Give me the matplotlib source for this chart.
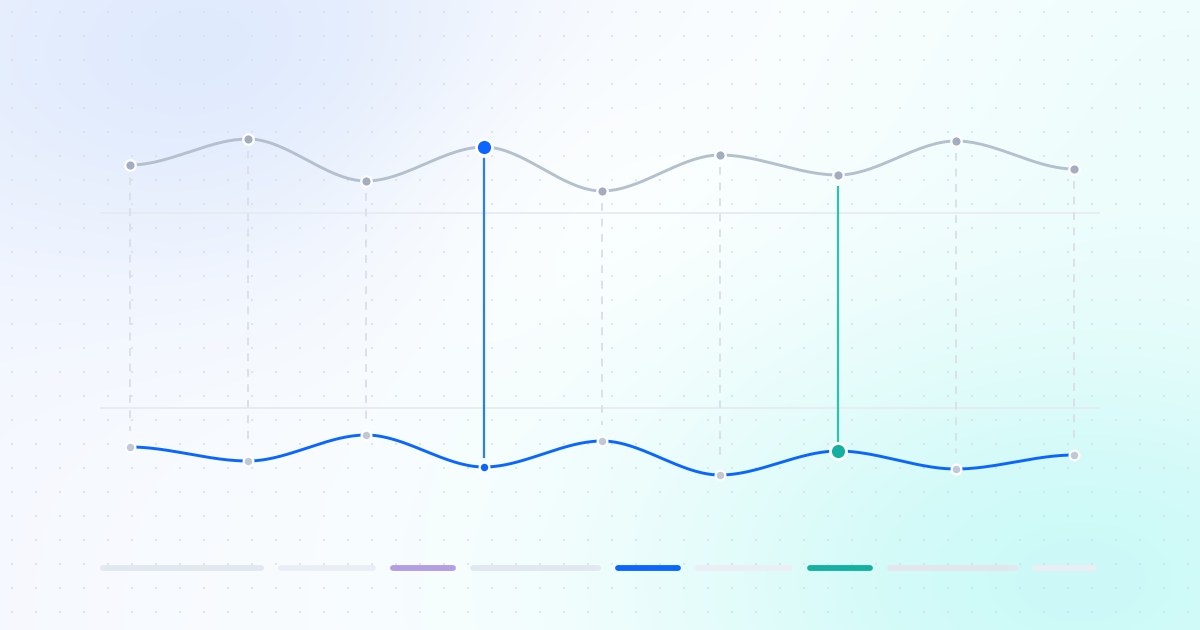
import numpy as np
import matplotlib
matplotlib.use("Agg")
import matplotlib.pyplot as plt

# data: nine points per series (pixel-like units, higher = up)
steps = list(range(9))
upper = [465, 491, 449, 483, 439, 475, 455, 489, 461]
lower = [183, 169, 195, 163, 189, 155, 179, 161, 175]
grid_levels = [222, 417]
hl_blue = 3
hl_teal = 6

# strip of segments at the bottom
seg_len = [164, 98, 66, 131, 66, 98, 66, 131, 65]
seg_col = ["#e2e8f0", "#e9edf5", "#b39de3", "#e2e8f0", "#0a66ff",
           "#eceef5", "#14b1a3", "#e4e6ef", "#eceef6"]

W, H = 1200, 630
fig = plt.figure(figsize=(12, 6.3), dpi=100)

# background: soft blue top-left, cyan bottom-right, white middle
bg = fig.add_axes([0, 0, 1, 1])
bg.set_xlim(0, W)
bg.set_ylim(H, 0)
bg.axis("off")
yy, xx = np.mgrid[0:H, 0:W]
img = np.ones((H, W, 3))
# faint lavender wash on the left, fading to white
wl = np.clip(1 - xx / 560.0, 0, 1)[..., None]
img = img * (1 - wl) + wl * np.array([0.965, 0.975, 1.0])
blue = np.array([0.875, 0.918, 0.992])
cyan = np.array([0.80, 0.98, 0.97])
wb = np.exp(-(((xx - 220) / 380.0) ** 2 + ((yy - 50) / 230.0) ** 2))
img = img * (1 - wb[..., None]) + wb[..., None] * blue
ww = np.exp(-(((xx - 660) / 260.0) ** 2 + ((yy - 250) / 230.0) ** 2))
img = img * (1 - ww[..., None]) + ww[..., None] * np.ones(3)
wc = np.exp(-(((xx - 1080) / 460.0) ** 2 + ((yy - 580) / 290.0) ** 2))
wt = np.exp(-(((xx - 1200) / 330.0) ** 2 + ((yy - 60) / 280.0) ** 2)) * 0.3
img = img * (1 - wc[..., None]) + wc[..., None] * cyan
img = img * (1 - wt[..., None]) + wt[..., None] * cyan
bg.imshow(img, extent=(0, W, H, 0), aspect="auto", zorder=0)

# dot pattern
gx, gy = np.meshgrid(np.arange(12, W, 24), np.arange(12, H, 24))
bg.scatter(gx.ravel(), gy.ravel(), s=2.2, marker="s", color="#d5dce6",
           alpha=0.7, linewidths=0, zorder=1)

# bottom strip
left = 100
for L, c in zip(seg_len, seg_col):
    bg.plot([left + 3, left + L - 3], [568, 568], color=c, lw=4.2,
            solid_capstyle="round", zorder=2)
    left += L + 14

# main chart
ax = fig.add_axes([100 / W, 0, 1000 / W, 1])
ax.set_facecolor("none")
ax.set_xlim(-30 / 118, 8 + 26 / 118)
ax.set_ylim(0, H)
for s in ax.spines.values():
    s.set_visible(False)
ax.set_xticks([])
ax.set_yticks(grid_levels)
ax.tick_params(left=False, labelleft=False)
ax.grid(axis="y", color="#e6eaf0", lw=1.2)


def smooth(xs, ys, n=60):
    # cubic with flat tangents at every point
    px, py = [], []
    for i in range(len(xs) - 1):
        t = np.linspace(0, 1, n)
        h = 3 * t ** 2 - 2 * t ** 3
        px.extend(xs[i] + (xs[i + 1] - xs[i]) * t)
        py.extend(ys[i] + (ys[i + 1] - ys[i]) * h)
    return px, py


# connectors
for i in steps:
    if i == hl_blue:
        ax.plot([i, i], [upper[i] - 12, lower[i] + 10], color="#2a7ef2",
                lw=1.6, zorder=3)
    elif i == hl_teal:
        ax.plot([i, i], [upper[i] - 12, lower[i] + 10], color="#2fc1ae",
                lw=1.6, zorder=3)
    else:
        ax.plot([i, i], [upper[i] - 12, lower[i] + 16], color="#dbe0e9",
                lw=1.4, ls=(0, (4, 4)), zorder=3)

sx, sy = smooth(steps, upper)
ax.plot(sx, sy, color="#b5c0cf", lw=2.1, zorder=4, solid_capstyle="round")
sx, sy = smooth(steps, lower)
ax.plot(sx, sy, color="#0a66ff", lw=2.1, zorder=4, solid_capstyle="round")

# markers
for i in steps:
    if i == hl_blue:
        ax.plot(i, upper[i], "o", ms=11.5, color="#0a66ff", mec="white", mew=2, zorder=6)
        ax.plot(i, lower[i], "o", ms=7, color="#0a66ff", mec="white", mew=1.6, zorder=6)
    elif i == hl_teal:
        ax.plot(i, upper[i], "o", ms=7.5, color="#a3adbf", mec="white", mew=1.6, zorder=6)
        ax.plot(i, lower[i], "o", ms=11.5, color="#14b1a0", mec="white", mew=2, zorder=6)
    else:
        ax.plot(i, upper[i], "o", ms=7.5, color="#a3adbf", mec="white", mew=1.6, zorder=6)
        ax.plot(i, lower[i], "o", ms=7, color="#c0c8d6", mec="white", mew=1.6, zorder=6)

fig.savefig("out.png", dpi=100)
